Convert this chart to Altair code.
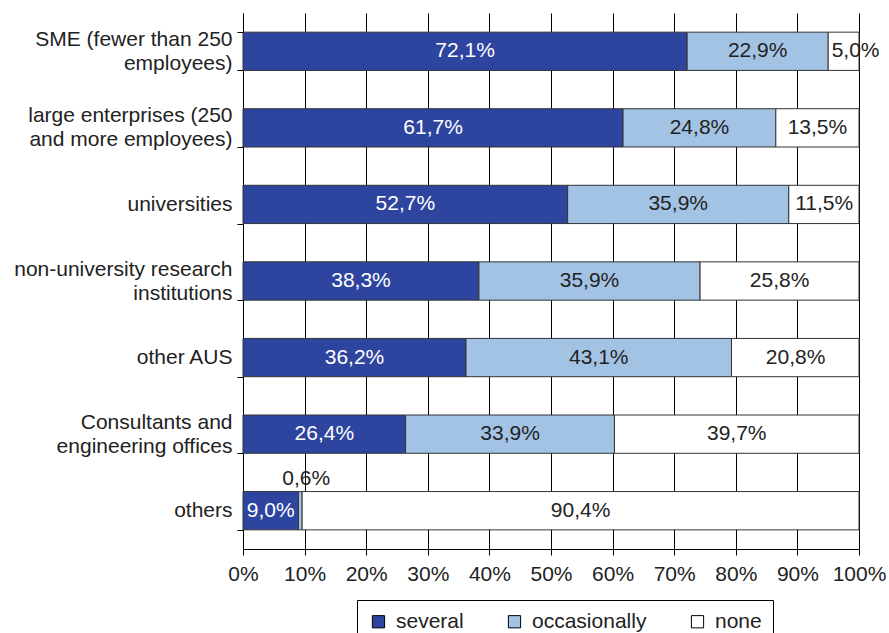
import altair as alt
import pandas as pd

categories = [
    "SME (fewer than 250|employees)",
    "large enterprises (250|and more employees)",
    "universities",
    "non-university research|institutions",
    "other AUS",
    "Consultants and|engineering offices",
    "others",
]
series = ["several", "occasionally", "none"]
several = [72.1, 61.7, 52.7, 38.3, 36.2, 26.4, 9.0]
occasionally = [22.9, 24.8, 35.9, 35.9, 43.1, 33.9, 0.6]
none = [5.0, 13.5, 11.5, 25.8, 20.8, 39.7, 90.4]
colors = ["#2E45A0", "#A3C3E5", "#FFFFFF"]
tick_values = [0, 10, 20, 30, 40, 50, 60, 70, 80, 90, 100]

rows = []
for i, c in enumerate(categories):
    for j, (s, vals) in enumerate(zip(series, [several, occasionally, none])):
        v = vals[i]
        rows.append({
            "category": c,
            "series": s,
            "order": j,
            "value": v,
            "label": f"{v:.1f}".replace(".", ",") + "%",
        })
df = pd.DataFrame(rows)

FONT = "Liberation Sans"
FS = 21

base = alt.Chart(df).transform_stack(
    stack="value",
    groupby=["category"],
    as_=["v0", "v1"],
    sort=[alt.SortField("order", order="ascending")],
).transform_calculate(mid="(datum.v0 + datum.v1) / 2")

y_enc = alt.Y(
    "category:N",
    sort=categories,
    scale=alt.Scale(paddingInner=0.5, paddingOuter=0.25),
    axis=alt.Axis(
        title=None,
        labelExpr="datum.value ? split(datum.value, '|') : ''",
        labelFontSize=FS,
        labelFont=FONT,
        labelColor="#222222",
        labelLineHeight=24,
        labelPadding=5,
        labelLimit=300,
        labelOffset={
            "condition": {
                "test": "datum.value && indexof(datum.value, '|') >= 0",
                "value": -12,
            },
            "value": 0,
        },
        tickBand="extent",
        tickSize=6,
        tickColor="#000000",
        domainColor="#000000",
        grid=False,
    ),
)

bars = base.mark_bar(stroke="#333333", strokeWidth=1).encode(
    x=alt.X(
        "v0:Q",
        scale=alt.Scale(domain=[0, 100], clamp=True, nice=False),
        axis=alt.Axis(
            title=None,
            values=tick_values,
            labelExpr="datum.value + '%'",
            labelFontSize=FS,
            labelFont=FONT,
            labelColor="#222222",
            labelPadding=8,
            labelOverlap=False,
            labelFlush=False,
            tickSize=6,
            tickColor="#000000",
            domainColor="#000000",
            grid=True,
            gridColor="#000000",
            gridWidth=1,
            gridOpacity=1,
        ),
    ),
    x2="v1:Q",
    y=y_enc,
    fill=alt.Fill(
        "series:N",
        sort=series,
        scale=alt.Scale(domain=series, range=colors),
        legend=alt.Legend(
            title=None,
            orient="none",
            legendX=114,
            legendY=587,
            direction="horizontal",
            strokeColor="#000000",
            padding=11,
            symbolType="square",
            symbolSize=150,
            symbolStrokeColor="#000000",
            symbolStrokeWidth=1,
            labelFontSize=FS,
            labelFont=FONT,
            labelColor="#222222",
            labelOffset=7,
            columnPadding=40,
        ),
    ),
    order=alt.Order("order:Q"),
)

inner = base.transform_filter(
    "datum.value >= 1 && !(datum.series == 'none' && datum.value < 6)"
).mark_text(fontSize=FS, font=FONT).encode(
    x=alt.X("mid:Q"),
    y=alt.Y("category:N", sort=categories),
    text="label:N",
    color=alt.Color(
        "series:N",
        scale=alt.Scale(domain=series, range=["#FFFFFF", "#222222", "#222222"]),
        legend=None,
    ),
)

edge = base.transform_filter(
    "datum.series == 'none' && datum.value < 6"
).mark_text(fontSize=FS, font=FONT, dx=12, color="#222222").encode(
    x=alt.X("mid:Q"),
    y=alt.Y("category:N", sort=categories),
    text="label:N",
)

outer = base.transform_filter("datum.value < 1").mark_text(
    fontSize=FS, font=FONT, dy=-32, dx=6, color="#222222"
).encode(
    x=alt.X("mid:Q"),
    y=alt.Y("category:N", sort=categories),
    text="label:N",
)

chart = (
    alt.layer(bars, inner, edge, outer)
    .resolve_scale(color="independent")
    .properties(
        width=616,
        height=536,
        autosize=alt.AutoSizeParams(type="none"),
        padding={"left": 243, "top": 13, "right": 30, "bottom": 84},
        background="white",
    )
    .configure_view(stroke=None)
)

chart.save("out.html", embed_options={"renderer": "svg", "actions": False})
